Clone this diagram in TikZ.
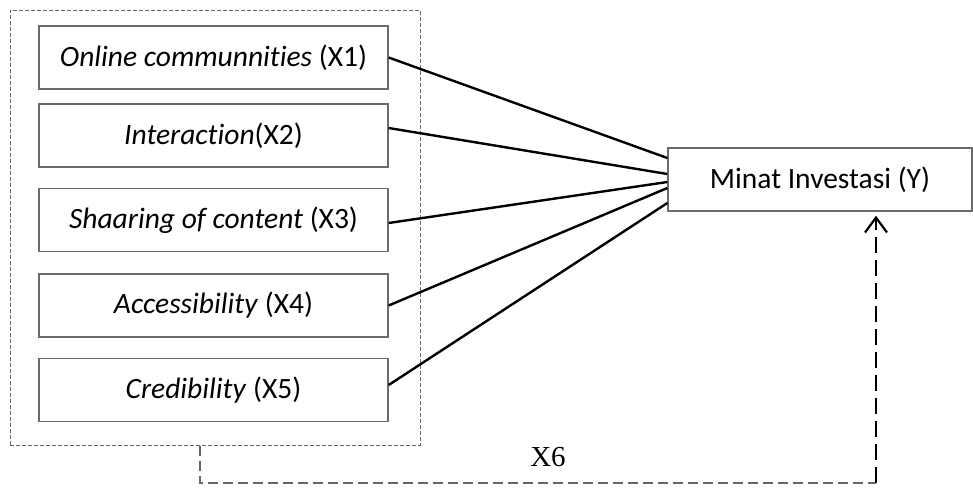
\documentclass[tikz,border=0pt]{standalone}
\usepackage{fontspec}
\setmainfont{Carlito}[Ligatures=NoCommon]
\newfontfamily\timesfont{Liberation Serif}
\usepackage{tikz}
\usetikzlibrary{positioning,arrows.meta,calc}
\definecolor{boxgray}{rgb}{0.42,0.42,0.42}
\definecolor{dashgray}{rgb}{0.40,0.40,0.40}

\begin{document}
\begin{tikzpicture}[x=1pt,y=-1pt,
        varbox/.style={draw=boxgray, line width=1.3pt, minimum width=349pt, minimum height=63pt, inner sep=0pt, font=\fontsize{29.5}{34}\selectfont},
        link/.style={line width=2.4pt},
        groupbox/.style={draw=dashgray, line width=1pt, dash pattern=on 4pt off 2pt},
        feedline/.style={draw=dashgray, line width=1.5pt, dash pattern=on 10pt off 5pt},
        feedarrow/.style={line width=2.2pt, dash pattern=on 16pt off 7pt, -{Straight Barb[length=15pt,width=22pt]}}]
        \useasboundingbox (0,0) rectangle (973,488);
        \node[groupbox, minimum width=410pt, minimum height=435pt] (grp) at (215,227.5) {};
        \node[varbox] (x1) at (213.5,57.5) {\textit{Online communnit\kern0pt ies} (X1)};
        \node[varbox] (x2) at (213.5,135.5) {\textit{Interact\kern0pt ion}(X2)};
        \node[varbox] (x3) at (213.5,220) {\textit{Shaaring of content} (X3)};
        \node[varbox] (x4) at (213.5,305.5) {\textit{Accessibility} (X4)};
        \node[varbox] (x5) at (213.5,390) {\textit{Credibility} (X5)};
        \node[varbox, minimum width=304pt] (y) at (820,179.5) {Minat Investasi (Y)};
        \draw[link] (x1.east) -- ([yshift=21.5pt]y.west);
        \draw[link] ([yshift=7.5pt]x2.east) -- ([yshift=5.5pt]y.west);
        \draw[link] ([yshift=-3pt]x3.east) -- ([yshift=-2.5pt]y.west);
        \draw[link] (x4.east) -- ([yshift=-8.5pt]y.west);
        \draw[link] ([yshift=5pt]x5.east) -- ([yshift=-23.5pt]y.west);
        \coordinate (c1) at (200,483);
        \coordinate (c2) at (876,483);
        \draw[feedline] ([xshift=-15pt]grp.south) -- (c1) -- (c2);
        \draw[feedarrow] (c2) -- ([xshift=56pt,yshift=-4pt]y.south);
        \node[font=\timesfont\fontsize{29}{34}\selectfont] (lbl) at (548,457) {X6};
    \end{tikzpicture}
\end{document}
